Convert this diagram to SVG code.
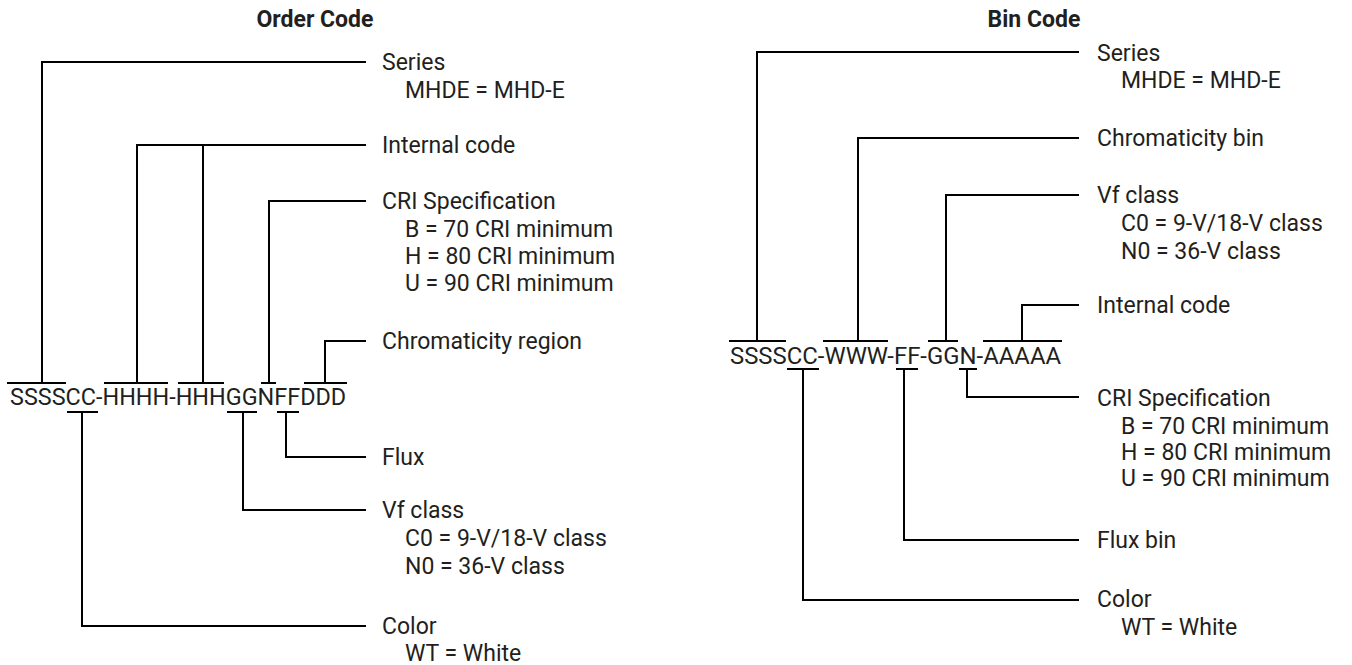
<svg xmlns="http://www.w3.org/2000/svg" width="1352" height="665" viewBox="0 0 1352 665">
<style>
  text { font-family: Roboto, "Liberation Sans", sans-serif; font-size: 23px; fill: #231f20; }
  .title { font-weight: bold; text-anchor: middle; }
  .code-l { font-size: 23.4px; }
  .code-r { font-size: 23.9px; }
  .conn path { fill: none; stroke: #000; stroke-width: 2; }
</style>
<rect width="1352" height="665" fill="#fff"/>

<g id="title-order"><text class="title" x="315" y="27">Order Code</text></g>
<g id="title-bin"><text class="title" x="1034" y="27">Bin Code</text></g>

<g id="connectors" class="conn">
  <!-- Order code, above -->
  <path d="M7,383 H66 M42,383 V62 H366"/>
  <path d="M104,383 H168 M178,383 H224 M137,383 V145 H366 M203,383 V145"/>
  <path d="M261,383 H276 M269,383 V201 H366"/>
  <path d="M304,383 H347 M325,383 V341 H366"/>
  <!-- Order code, below -->
  <path d="M67,412 H98 M82,412 V626 H366"/>
  <path d="M227,412 H257 M243,412 V510 H366"/>
  <path d="M277,412 H299 M286,412 V457 H366"/>
  <!-- Bin code, above -->
  <path d="M729,341 H786 M757,341 V52 H1079"/>
  <path d="M823,341 H888 M858,341 V138 H1079"/>
  <path d="M928,341 H958 M946,341 V195 H1079"/>
  <path d="M983,341 H1062 M1022,341 V305 H1079"/>
  <!-- Bin code, below -->
  <path d="M787,369 H819 M803,369 V600 H1079"/>
  <path d="M896,369 H918 M904,369 V540 H1079"/>
  <path d="M959,369 H977 M967,369 V397 H1079"/>
</g>

<g id="order-code"><text class="code-l" x="10" y="405">SSSSCC-HHHH-HHHGGNFFDDD</text></g>
<g id="bin-code"><text class="code-r" x="730" y="364">SSSSCC-WWW-FF-GGN-AAAAA</text></g>

<g id="o-series"><text x="382" y="70">Series</text><text x="405" y="98">MHDE = MHD-E</text></g>
<g id="o-internal"><text x="382" y="153">Internal code</text></g>
<g id="o-cri"><text x="382" y="209">CRI Specification</text><text x="405" y="237">B = 70 CRI minimum</text><text x="405" y="264">H = 80 CRI minimum</text><text x="405" y="291">U = 90 CRI minimum</text></g>
<g id="o-chroma"><text x="382" y="349">Chromaticity region</text></g>
<g id="o-flux"><text x="382" y="465">Flux</text></g>
<g id="o-vf"><text x="382" y="518">Vf class</text><text x="405" y="546">C0 = 9-V/18-V class</text><text x="405" y="574">N0 = 36-V class</text></g>
<g id="o-color"><text x="382" y="634">Color</text><text x="405" y="661">WT = White</text></g>

<g id="b-series"><text x="1097" y="61">Series</text><text x="1121" y="88">MHDE = MHD-E</text></g>
<g id="b-chroma"><text x="1097" y="146">Chromaticity bin</text></g>
<g id="b-vf"><text x="1097" y="203">Vf class</text><text x="1121" y="231">C0 = 9-V/18-V class</text><text x="1121" y="259">N0 = 36-V class</text></g>
<g id="b-internal"><text x="1097" y="313">Internal code</text></g>
<g id="b-cri"><text x="1097" y="406">CRI Specification</text><text x="1121" y="434">B = 70 CRI minimum</text><text x="1121" y="460">H = 80 CRI minimum</text><text x="1121" y="486">U = 90 CRI minimum</text></g>
<g id="b-flux"><text x="1097" y="548">Flux bin</text></g>
<g id="b-color"><text x="1097" y="607">Color</text><text x="1121" y="635">WT = White</text></g>
</svg>
